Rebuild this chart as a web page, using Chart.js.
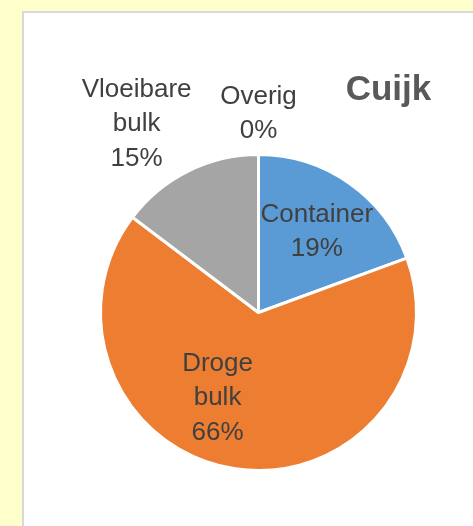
<!DOCTYPE html>
<html>
<head>
<meta charset="utf-8">
<script src="https://cdn.jsdelivr.net/npm/chart.js@4/dist/chart.umd.min.js"></script>
<style>
  html, body { margin: 0; padding: 0; }
  body { width: 473px; height: 526px; background: #FFFFCC; position: relative; overflow: hidden; }
  #panel { position: absolute; left: 22px; top: 11px; width: 470px; height: 540px; background: #fff; border: 2px solid #D9D9D9; box-sizing: border-box; }
  #chart { position: absolute; left: 22px; top: 11px; }
</style>
</head>
<body>
<div id="panel"></div>
<canvas id="chart" width="451" height="515"></canvas>
<script>
// Cuijk - share per cargo type (%)
const titleText = 'Cuijk';
const categories = [['Container'], ['Droge', 'bulk'], ['Vloeibare', 'bulk'], ['Overig']];
const shares = [19.4, 65.9, 14.7, 0];
const colors = ['#5B9BD5', '#ED7D31', '#A5A5A5', '#FFC000'];

// where each label sits: fraction of radius, and turn (degrees) from the slice middle
const labelPlacement = [
    { r: 0.64, turn: 0.3 },
    { r: 0.59, turn: 17.6 },
    { r: 1.43, turn: -6.2 },
    { r: 1.27, turn: 0 },
];

const total = shares.reduce((a, b) => a + b, 0);

const pieLabels = {
    id: 'pieLabels',
    afterDatasetsDraw(chart) {
        const ctx = chart.ctx;
        const arcs = chart.getDatasetMeta(0).data;
        ctx.save();
        ctx.fillStyle = '#404040';
        ctx.font = '26px "Liberation Sans", Arial, sans-serif';
        ctx.textAlign = 'center';
        ctx.textBaseline = 'middle';
        const lineH = 34.5;
        arcs.forEach((arc, i) => {
            const p = arc.getProps(['x', 'y', 'startAngle', 'endAngle', 'outerRadius'], true);
            const mid = (p.startAngle + p.endAngle) / 2 + labelPlacement[i].turn * Math.PI / 180;
            const cx = p.x + Math.cos(mid) * p.outerRadius * labelPlacement[i].r;
            const cy = p.y + Math.sin(mid) * p.outerRadius * labelPlacement[i].r + 2;
            const lines = categories[i].concat([Math.round(shares[i] / total * 100) + '%']);
            const y0 = cy - (lines.length - 1) * lineH / 2;
            lines.forEach((line, j) => ctx.fillText(line, cx, y0 + j * lineH));
        });
        // title
        ctx.fillStyle = '#595959';
        ctx.font = 'bold 35px "Liberation Sans", Arial, sans-serif';
        ctx.fillText(titleText, 366.5, 79);
        ctx.restore();
    }
};

new Chart(document.getElementById('chart'), {
    type: 'pie',
    data: {
        labels: categories.map(c => c.join(' ')),
        datasets: [{
            data: shares,
            backgroundColor: colors,
            borderColor: '#ffffff',
            borderWidth: 3,
        }],
    },
    options: {
        responsive: false,
        animation: false,
        layout: { padding: { left: 77, top: 142, right: 55, bottom: 54 } },
        plugins: {
            legend: { display: false },
            tooltip: { enabled: false },
        },
    },
    plugins: [pieLabels],
});
</script>
</body>
</html>
